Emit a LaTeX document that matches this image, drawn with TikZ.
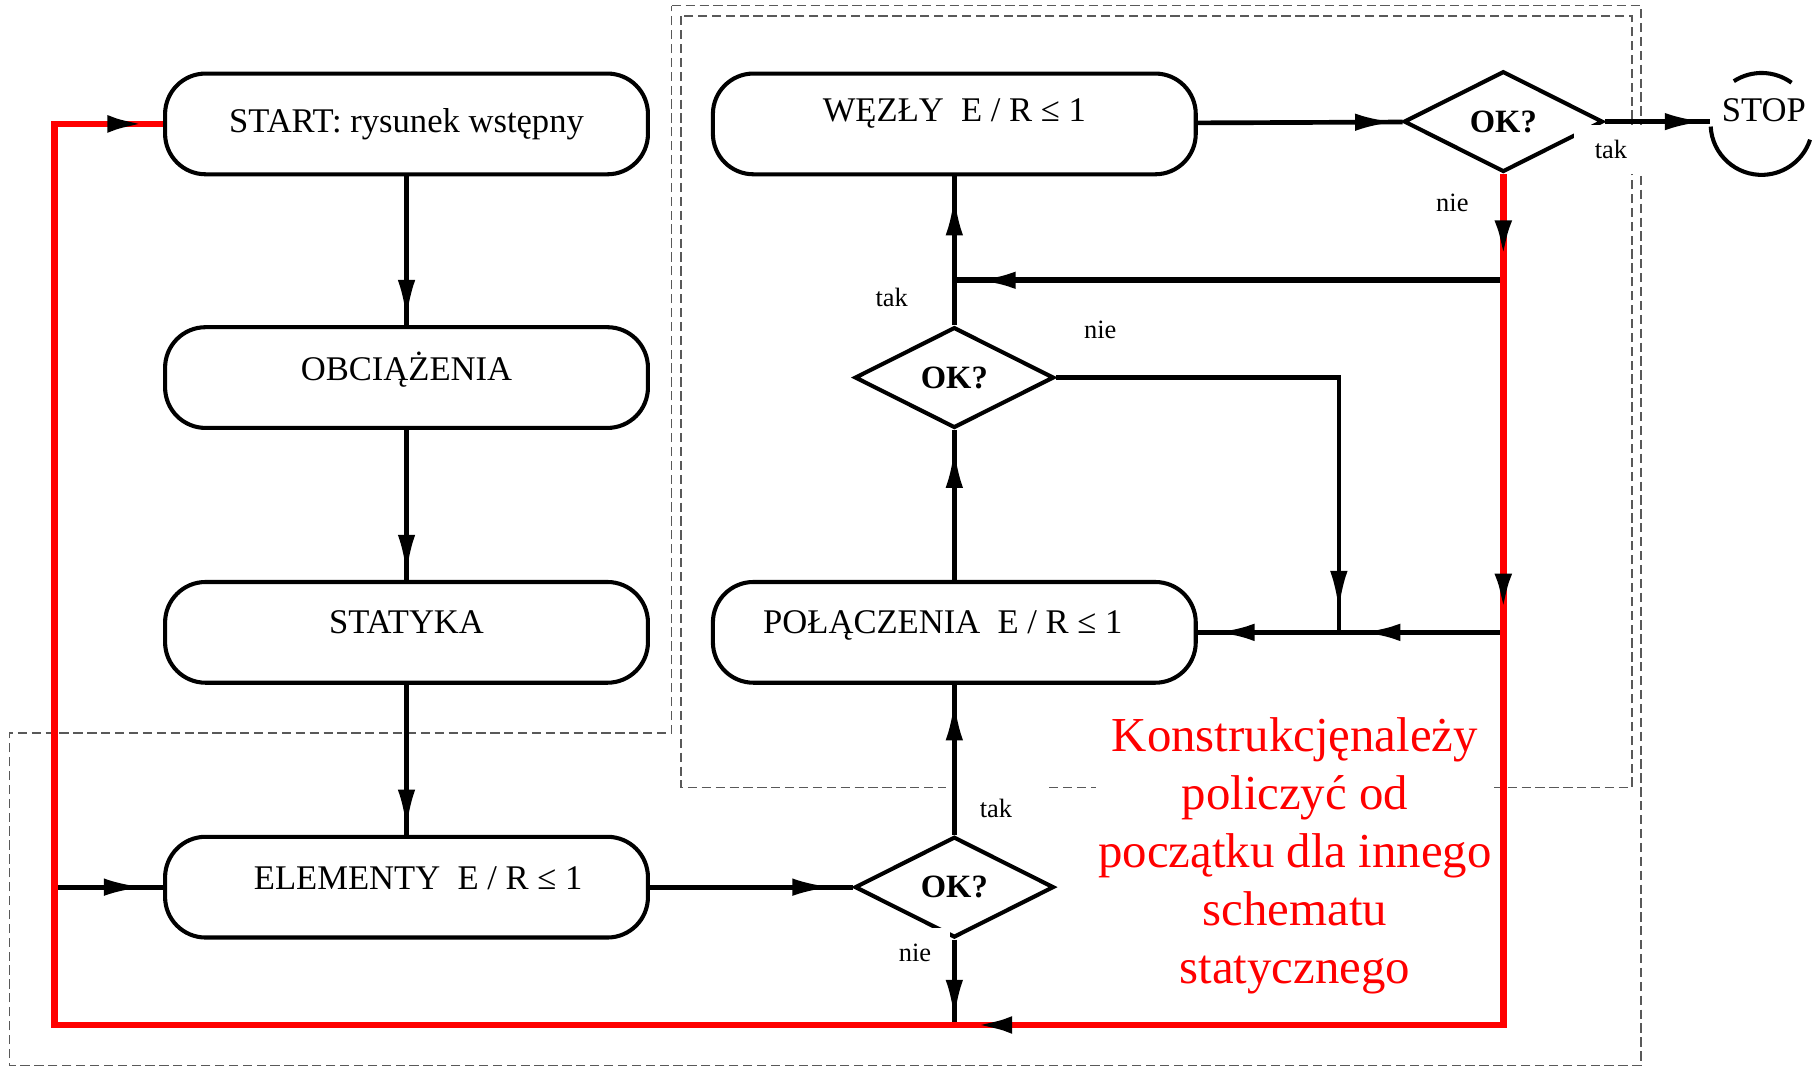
\documentclass[tikz,border=0pt]{standalone}
\usepackage{fontspec}
\setmainfont{Liberation Serif}
\usetikzlibrary{arrows.meta,shapes.geometric,decorations.markings}

\tikzset{tipat/.style={postaction={decorate, decoration={markings, mark=at position #1 with {\arrow{Latex[length=0.68cm, width=0.3cm, color=black]}}}}}}

\begin{document}
\begin{tikzpicture}[x=0.02cm, y=-0.02cm]
	\tikzstyle{stage} = [rectangle, draw, line width=2pt, rounded corners=0.7cm, minimum width=8.34cm, minimum height=1.74cm, font=\fontsize{17}{20}\selectfont]
	\tikzstyle{check} = [diamond, draw, line width=2pt, aspect=2, minimum width=3.44cm, minimum height=1.74cm, inner sep=0pt, font=\fontsize{16}{18}\selectfont\bfseries]
	\tikzstyle{answer} = [fill=white, inner sep=2pt, font=\fontsize{13}{15}\selectfont]
	\tikzstyle{dashframe} = [draw=black!65, line width=0.7pt, dash pattern=on 0.16cm off 0.08cm]
	\tikzstyle{flow} = [line width=2.3pt]
	\tikzstyle{redloop} = [red, line width=3.3pt]
	\useasboundingbox (0,0) rectangle (1568,922);

	% Dashed frames
	\draw[dashframe] (580,5) -- (1417,5) -- (1417,920) -- (8,920) -- (8,633) -- (580,633) -- cycle;
	\draw[dashframe] (588,14) rectangle (1409,680);

	% Left column
	\node (start) [stage] at (351,107) {START: rysunek wstępny};
	\node (obc) [stage] at (351,326) {\raisebox{0.4cm}{OBCIĄŻENIA}};
	\node (stat) [stage] at (351,546) {\raisebox{0.36cm}{STATYKA}};
	\node (elem) [stage] at (351,766) {\raisebox{0.32cm}{\hspace*{0.4cm}ELEMENTY\ \ E / R ≤ 1}};
	% Right column
	\node (wezly) [stage] at (824,107) {\raisebox{0.48cm}{WĘZŁY\ \ E / R ≤ 1}};
	\node (pol) [stage] at (824,546) {\raisebox{0.36cm}{POŁĄCZENIA\ \ E / R ≤ 1\hspace*{0.4cm}}};
	% Checks
	\node (okw) [check] at (1298,105) {OK?};
	\node (okp) [check] at (824,326) {OK?};
	\node (oke) [check] at (824,766) {OK?};
	% Stop
	\node (stop) [inner sep=0.2cm, font=\fontsize{17}{20}\selectfont] at (1523,105) {\raisebox{0.4cm}{STOP}};
	\draw[line width=2pt] (1521,107) ++(54:0.88cm) arc[start angle=54, end angle=123, radius=0.88cm];
	\draw[line width=2pt] (1521,107) ++(183:0.88cm) arc[start angle=183, end angle=342, radius=0.88cm];

	% Answers
	\node (takw) [answer, minimum width=1.28cm, minimum height=0.84cm] at (1391,129) {tak};
	\node (niew) [answer] at (1254,175) {nie};
	\node (takp) [answer] at (770,257) {tak};
	\node (niep) [answer] at (950,285) {nie};
	\node (take) [answer, minimum width=1.72cm, minimum height=0.8cm] at (860,698) {tak};
	\node (niee) [answer, minimum width=1.22cm, minimum height=0.88cm] at (790,823) {nie};

	% Note
	\node (note) [fill=white, inner sep=1pt, text=red, align=center, font=\fontsize{24}{28.5}\selectfont] at (1118,739) {Konstrukcjęnależy\\policzyć od\\początku dla innego\\schematu\\statycznego};

	\coordinate (splitW) at (1298,242);
	\coordinate (splitP) at (1298,546);
	\coordinate (join) at (1156,546);
	\coordinate (cornerR) at (1298,885);
	\coordinate (cornerL) at (47,885);
	\coordinate (cornerT) at (47,107);

	% Connectors
	\draw[flow, tipat=-0.1cm] (start) -- (obc);
	\draw[flow, tipat=-0.1cm] (obc) -- (stat);
	\draw[flow, tipat=-0.1cm] (stat) -- (elem);
	\draw[flow, tipat=-0.36cm] (elem) -- (oke);
	\draw[flow, tipat=-0.28cm] (oke) -- (pol);
	\draw[flow, tipat=-0.32cm] (pol) -- (okp);
	\draw[flow, tipat=-0.34cm] (okp) -- (wezly);
	\draw[flow, tipat=-0.14cm] (wezly) -- (okw);
	\draw[flow, tipat=-0.1cm] (okw) -- (stop);
	\draw[flow, tipat=-0.38cm] (okp.east) -| (join);
	\draw[flow, line width=2.8pt, tipat=-0.38cm] (splitW) -- (okp |- splitW);
	\draw[flow, line width=2.8pt, tipat=2.46cm, tipat=-0.3cm] (splitP) -- (pol);
	\draw[flow, tipat=-0.34cm] (cornerL |- elem) -- (elem);
	\draw[flow, tipat=-0.1cm] (oke) -- (oke |- cornerL);
	% Back to start
	\draw[redloop, tipat=1.48cm, tipat=7.58cm, tipat=23.86cm, tipat=-0.28cm] (okw) -- (cornerR) -- (cornerL) -- (cornerT) -- (start);
\end{tikzpicture}
\end{document}
